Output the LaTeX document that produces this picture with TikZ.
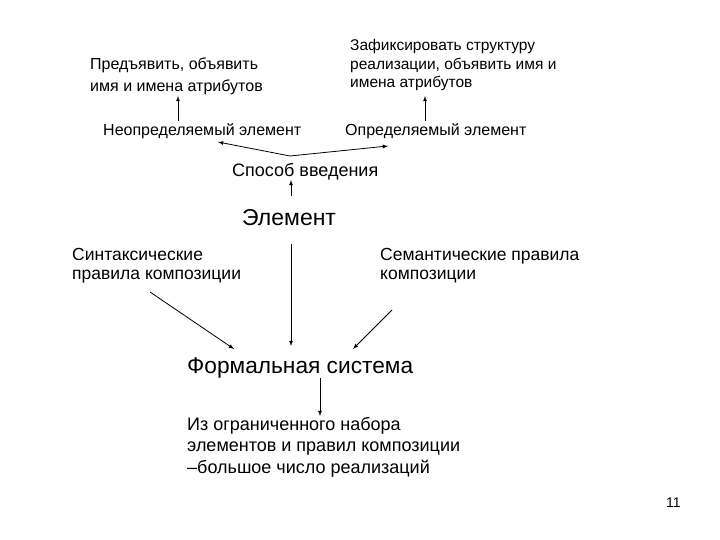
\documentclass[tikz,border=0pt]{standalone}
\usepackage{fontspec}
\setmainfont{Liberation Sans}
\begin{document}
\begin{tikzpicture}[x=1pt,y=-1pt,
  t/.style={anchor=west,inner sep=0pt,align=left},
  ar/.style={-latex,thick}]
\useasboundingbox[fill=white] (0,0) rectangle (720,540);
\node[t,font=\fontsize{16}{22}\selectfont] (pr) at (90,76) {Предъявить, объявить\\имя и имена атрибутов};
\node[t,font=\fontsize{15.5}{18.5}\selectfont] (zf) at (350,65) {Зафиксировать структуру\\реализации, объявить имя и\\имена атрибутов};
\node[t,font=\fontsize{16}{18}\selectfont] (ne) at (103,131) {Неопределяемый элемент};
\node[t,font=\fontsize{16}{18}\selectfont] (op) at (345,131) {Определяемый элемент};
\node[t,font=\fontsize{18}{20}\selectfont] (sp) at (232,172) {Способ введения};
\node[t,font=\fontsize{23}{26}\selectfont] (el) at (242,218) {Элемент};
\node[t,font=\fontsize{17.5}{19}\selectfont] (si) at (72,266) {Синтаксические\\правила композиции};
\node[t,font=\fontsize{17.5}{19}\selectfont] (se) at (380,266) {Семантические правила\\композиции};
\node[t,font=\fontsize{22.7}{26}\selectfont] (fs) at (187,368) {Формальная система};
\node[t,font=\fontsize{18}{21.5}\selectfont] (iz) at (187,447) {Из ограниченного набора\\элементов и правил композиции\\–большое число реализаций};
\node[t,font=\fontsize{14}{15}\selectfont] (n) at (666,503) {11};
\coordinate (c1) at (178,121); \coordinate (c1e) at (178,96);
\coordinate (c2) at (425,121); \coordinate (c2e) at (425,96);
\coordinate (m) at (290,156); \coordinate (ml) at (218,142); \coordinate (mr) at (388,146);
\coordinate (e1) at (291,196); \coordinate (e1e) at (291,180);
\coordinate (e2) at (291,244); \coordinate (e2e) at (291,346);
\coordinate (s1) at (150,292); \coordinate (s1e) at (234,349);
\coordinate (s2) at (392,310); \coordinate (s2e) at (353,349);
\coordinate (f1) at (320,378); \coordinate (f1e) at (320,416);
\draw[ar] (c1)--(c1e);
\draw[ar] (c2)--(c2e);
\draw[ar] (m)--(ml);
\draw[ar] (m)--(mr);
\draw[ar] (e1)--(e1e);
\draw[ar] (e2)--(e2e);
\draw[ar] (s1)--(s1e);
\draw[ar] (s2)--(s2e);
\draw[ar] (f1)--(f1e);
\end{tikzpicture}
\end{document}
